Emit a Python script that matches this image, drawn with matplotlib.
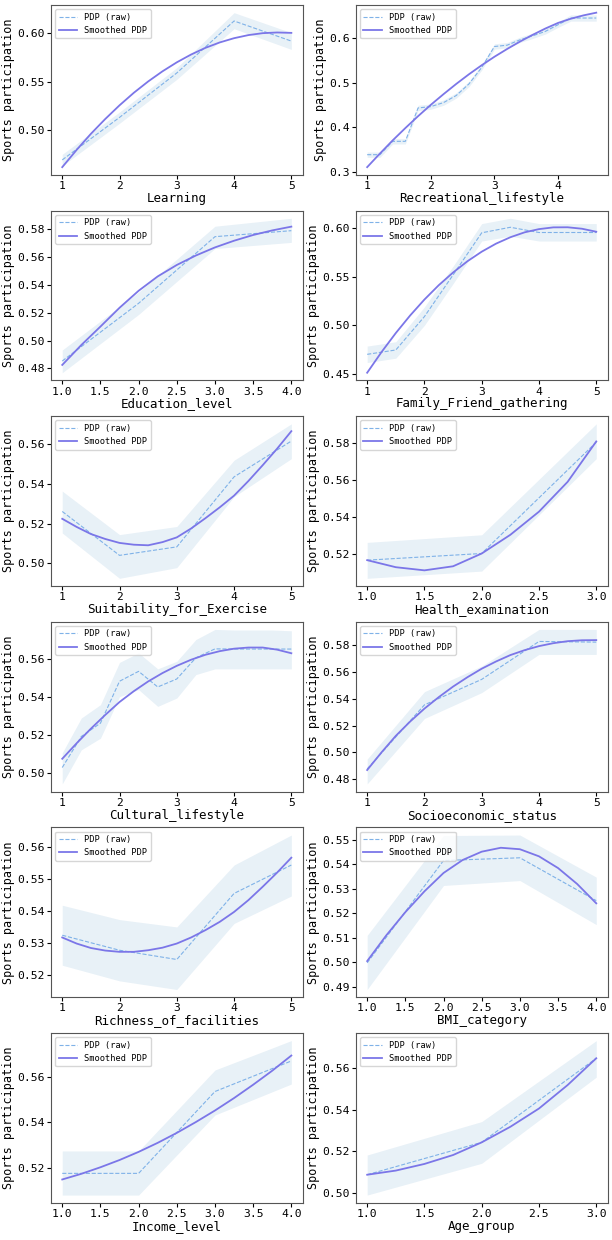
import matplotlib
matplotlib.use("Agg")
import matplotlib.pyplot as plt

plt.rcParams['font.family'] = ['DejaVu Sans Mono']

Y_LABEL = "Sports participation"

# Learning
learning_x = [1, 2, 3, 4, 5]
learning_raw = [0.469, 0.513, 0.559, 0.6128, 0.592]
learning_lo = [0.4628, 0.5069, 0.5524, 0.6048, 0.5834]
learning_hi = [0.4748, 0.5186, 0.5645, 0.6214, 0.6007]
learning_sx = [1, 1.25, 1.5, 1.75, 2, 2.25, 2.5, 2.75, 3, 3.25, 3.5, 3.75, 4, 4.25, 4.5, 4.75, 5]
learning_smooth = [0.4615, 0.4793, 0.496, 0.5113, 0.5255, 0.5385, 0.5502, 0.5607, 0.570,
                   0.5781, 0.585, 0.5906, 0.595, 0.5982, 0.6002, 0.6009, 0.6005]

# Recreational_lifestyle
recreational_x = [1.0, 1.2, 1.4, 1.6, 1.8, 2.0, 2.2, 2.4, 2.6, 2.8, 3.0, 3.2, 3.4, 3.6, 3.8, 4.0, 4.2, 4.4, 4.6]
recreational_raw = [0.338, 0.338, 0.368, 0.368, 0.443, 0.446, 0.455, 0.471, 0.497, 0.534, 0.581, 0.584,
                    0.596, 0.605, 0.615, 0.630, 0.645, 0.645, 0.645]
recreational_lo = [0.332, 0.332, 0.362, 0.362, 0.437, 0.440, 0.449, 0.465, 0.491, 0.528, 0.575, 0.578,
                   0.590, 0.599, 0.609, 0.624, 0.638, 0.638, 0.638]
recreational_hi = [0.344, 0.344, 0.374, 0.374, 0.449, 0.452, 0.461, 0.477, 0.503, 0.540, 0.587, 0.590,
                   0.602, 0.611, 0.621, 0.636, 0.652, 0.652, 0.652]
recreational_sx = [1.0, 1.2, 1.4, 1.6, 1.8, 2.0, 2.2, 2.4, 2.6, 2.8, 3.0, 3.2, 3.4, 3.6, 3.8, 4.0, 4.2, 4.4, 4.6]
recreational_smooth = [0.310, 0.3405, 0.370, 0.3978, 0.4245, 0.450, 0.474, 0.497, 0.5187, 0.539,
                       0.558, 0.5755, 0.592, 0.6072, 0.6214, 0.634, 0.6434, 0.651, 0.657]

# Education_level
education_x = [1, 2, 3, 4]
education_raw = [0.4853, 0.5267, 0.5745, 0.5788]
education_lo = [0.4769, 0.5187, 0.566, 0.5704]
education_hi = [0.4932, 0.5347, 0.582, 0.5877]
education_sx = [1, 1.25, 1.5, 1.75, 2, 2.25, 2.5, 2.75, 3, 3.25, 3.5, 3.75, 4]
education_smooth = [0.4825, 0.4968, 0.510, 0.5235, 0.5357, 0.546, 0.5542, 0.561, 0.5668,
                    0.5716, 0.5757, 0.579, 0.5817]

# Family_Friend_gathering
family_x = [1, 1.5, 2, 2.5, 3, 3.5, 4, 5]
family_raw = [0.470, 0.4745, 0.509, 0.552, 0.5955, 0.6012, 0.5958, 0.5958]
family_lo = [0.4615, 0.466, 0.500, 0.543, 0.587, 0.592, 0.587, 0.587]
family_hi = [0.4785, 0.483, 0.519, 0.561, 0.605, 0.6105, 0.605, 0.605]
family_sx = [1, 1.25, 1.5, 1.75, 2, 2.25, 2.5, 2.75, 3, 3.25, 3.5, 3.75, 4, 4.25, 4.5, 4.75, 5]
family_smooth = [0.451, 0.4723, 0.492, 0.5101, 0.5266, 0.5414, 0.5545, 0.5661, 0.576,
                 0.5843, 0.5909, 0.596, 0.5993, 0.6011, 0.6012, 0.5997, 0.5966]

# Suitability_for_Exercise
suitability_x = [1, 2, 3, 4, 5]
suitability_raw = [0.5261, 0.5039, 0.5082, 0.5436, 0.5617]
suitability_lo = [0.5152, 0.4923, 0.4977, 0.5336, 0.5528]
suitability_hi = [0.5364, 0.5144, 0.5185, 0.552, 0.5704]
suitability_sx = [1, 1.25, 1.5, 1.75, 2, 2.25, 2.5, 2.75, 3, 3.25, 3.5, 3.75, 4, 4.25, 4.5, 4.75, 5]
suitability_smooth = [0.5224, 0.5183, 0.5147, 0.5122, 0.5102, 0.5093, 0.509, 0.5106, 0.513,
                      0.5175, 0.5227, 0.5282, 0.5341, 0.5415, 0.5495, 0.5578, 0.5667]

# Health_examination
health_x = [1, 2, 3]
health_raw = [0.5168, 0.5204, 0.5805]
health_lo = [0.507, 0.5109, 0.5716]
health_hi = [0.5264, 0.5305, 0.5904]
health_sx = [1, 1.25, 1.5, 1.75, 2, 2.25, 2.5, 2.75, 3]
health_smooth = [0.5168, 0.513, 0.5113, 0.5135, 0.5204, 0.5305, 0.543, 0.5591, 0.5809]

# Cultural_lifestyle
cultural_x = [1, 1.333, 1.667, 2, 2.333, 2.667, 3, 3.333, 3.667, 4, 4.333, 4.667, 5]
cultural_raw = [0.5028, 0.5191, 0.5261, 0.5481, 0.5533, 0.5451, 0.5493, 0.5604, 0.5651,
                0.565, 0.565, 0.565, 0.565]
cultural_lo = [0.4942, 0.5121, 0.5182, 0.540, 0.5437, 0.5349, 0.5393, 0.5516, 0.5546,
               0.5546, 0.5546, 0.5546, 0.5546]
cultural_hi = [0.5105, 0.5288, 0.5358, 0.558, 0.563, 0.5546, 0.5586, 0.570, 0.5753,
               0.575, 0.575, 0.575, 0.5746]
cultural_sx = [1, 1.25, 1.5, 1.75, 2, 2.25, 2.5, 2.75, 3, 3.25, 3.5, 3.75, 4, 4.25, 4.5, 4.75, 5]
cultural_smooth = [0.5074, 0.5155, 0.5232, 0.5304, 0.5372, 0.5429, 0.548, 0.5524, 0.5562,
                   0.5594, 0.562, 0.5639, 0.5652, 0.5658, 0.5658, 0.5647, 0.5628]

# Socioeconomic_status
socio_x = [1, 2, 3, 4, 5]
socio_raw = [0.4875, 0.5355, 0.5546, 0.583, 0.5825]
socio_lo = [0.4763, 0.5253, 0.5447, 0.5733, 0.5733]
socio_hi = [0.4949, 0.5454, 0.5646, 0.592, 0.592]
socio_sx = [1, 1.25, 1.5, 1.75, 2, 2.25, 2.5, 2.75, 3, 3.25, 3.5, 3.75, 4, 4.25, 4.5, 4.75, 5]
socio_smooth = [0.4867, 0.4999, 0.5123, 0.523, 0.5327, 0.5413, 0.5492, 0.5562, 0.5626,
                0.568, 0.5728, 0.5765, 0.5795, 0.5817, 0.5832, 0.5839, 0.584]

# Richness_of_facilities
richness_x = [1, 2, 3, 4, 5]
richness_raw = [0.5325, 0.5278, 0.5249, 0.5456, 0.5545]
richness_lo = [0.5231, 0.5182, 0.5155, 0.5362, 0.5448]
richness_hi = [0.5419, 0.5374, 0.5351, 0.5545, 0.5639]
richness_sx = [1, 1.25, 1.5, 1.75, 2, 2.25, 2.5, 2.75, 3, 3.25, 3.5, 3.75, 4, 4.25, 4.5, 4.75, 5]
richness_smooth = [0.5318, 0.5299, 0.5285, 0.5277, 0.5273, 0.5273, 0.5278, 0.5286, 0.5299,
                   0.5318, 0.5341, 0.5367, 0.5398, 0.5435, 0.5477, 0.5521, 0.5568]

# BMI_category
bmi_x = [1, 2, 3, 4]
bmi_raw = [0.4998, 0.5416, 0.5427, 0.5252]
bmi_lo = [0.4889, 0.5314, 0.5334, 0.5154]
bmi_hi = [0.511, 0.5518, 0.552, 0.5348]
bmi_sx = [1, 1.25, 1.5, 1.75, 2, 2.25, 2.5, 2.75, 3, 3.25, 3.5, 3.75, 4]
bmi_smooth = [0.5005, 0.511, 0.5205, 0.529, 0.5365, 0.5418, 0.5452, 0.5468, 0.5462,
              0.5433, 0.5385, 0.532, 0.5241]

# Income_level
income_x = [1, 2, 3, 4]
income_raw = [0.5175, 0.5175, 0.5537, 0.5672]
income_lo = [0.5079, 0.5079, 0.5433, 0.557]
income_hi = [0.5274, 0.5274, 0.5632, 0.5762]
income_sx = [1, 1.25, 1.5, 1.75, 2, 2.25, 2.5, 2.75, 3, 3.25, 3.5, 3.75, 4]
income_smooth = [0.5148, 0.5173, 0.5202, 0.5234, 0.527, 0.531, 0.5354, 0.5402, 0.5453,
                 0.5508, 0.5567, 0.5629, 0.5696]

# Age_group
age_x = [1, 2, 3]
age_raw = [0.5087, 0.5243, 0.5648]
age_lo = [0.4989, 0.5142, 0.5557]
age_hi = [0.5182, 0.5343, 0.5733]
age_sx = [1, 1.25, 1.5, 1.75, 2, 2.25, 2.5, 2.75, 3]
age_smooth = [0.5087, 0.5107, 0.5139, 0.5182, 0.5243, 0.5318, 0.5406, 0.5519, 0.5648]

panels = [
    ("Learning", learning_x, learning_raw, learning_lo, learning_hi, learning_sx, learning_smooth),
    ("Recreational_lifestyle", recreational_x, recreational_raw, recreational_lo, recreational_hi,
     recreational_sx, recreational_smooth),
    ("Education_level", education_x, education_raw, education_lo, education_hi, education_sx, education_smooth),
    ("Family_Friend_gathering", family_x, family_raw, family_lo, family_hi, family_sx, family_smooth),
    ("Suitability_for_Exercise", suitability_x, suitability_raw, suitability_lo, suitability_hi,
     suitability_sx, suitability_smooth),
    ("Health_examination", health_x, health_raw, health_lo, health_hi, health_sx, health_smooth),
    ("Cultural_lifestyle", cultural_x, cultural_raw, cultural_lo, cultural_hi, cultural_sx, cultural_smooth),
    ("Socioeconomic_status", socio_x, socio_raw, socio_lo, socio_hi, socio_sx, socio_smooth),
    ("Richness_of_facilities", richness_x, richness_raw, richness_lo, richness_hi, richness_sx, richness_smooth),
    ("BMI_category", bmi_x, bmi_raw, bmi_lo, bmi_hi, bmi_sx, bmi_smooth),
    ("Income_level", income_x, income_raw, income_lo, income_hi, income_sx, income_smooth),
    ("Age_group", age_x, age_raw, age_lo, age_hi, age_sx, age_smooth),
]

fig, axes = plt.subplots(6, 2, figsize=(6.12, 12.4), dpi=100)
fig.subplots_adjust(left=0.083, right=0.993, top=0.996, bottom=0.03, wspace=0.21, hspace=0.21)

for ax, (name, x, raw, lo, hi, sx, smooth) in zip(axes.flat, panels):
    ax.fill_between(x, lo, hi, color="#1f77b4", alpha=0.1, linewidth=0)
    ax.plot(x, raw, linestyle="--", color="#7fb2e8", linewidth=0.8, label="PDP (raw)")
    ax.plot(sx, smooth, color="#7b76e8", linewidth=1.3, label="Smoothed PDP")
    ax.set_xlabel(name, fontsize=9, labelpad=0.5)
    ax.set_ylabel(Y_LABEL, fontsize=8.5, labelpad=1.5)
    ax.tick_params(labelsize=8.2, length=3, pad=1.5)
    for sp in ax.spines.values():
        sp.set_color("#555555")
    ax.legend(loc="upper left", fontsize=6.2, handlelength=2.2, borderpad=0.4, labelspacing=0.5)

fig.savefig("out.png", dpi=100)
